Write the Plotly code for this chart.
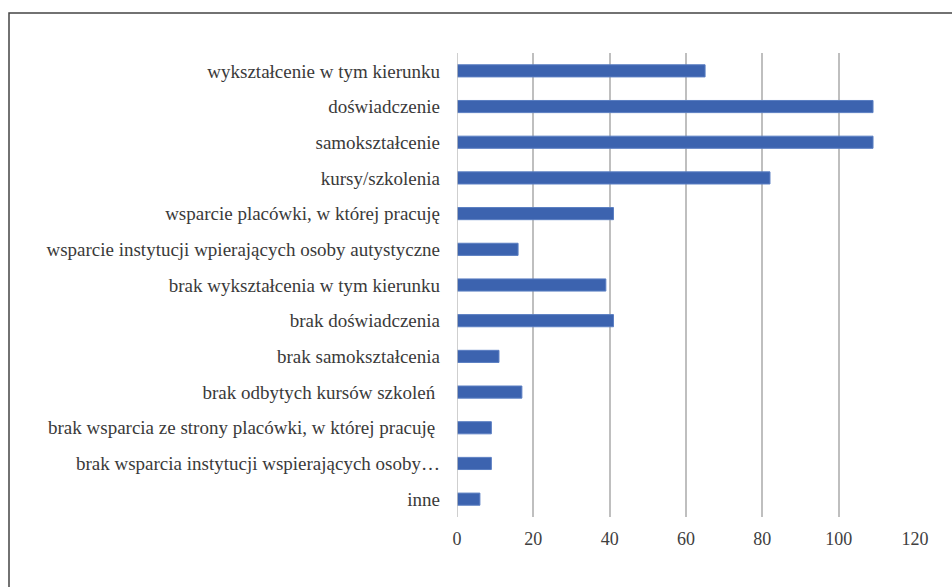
import plotly.graph_objects as go

categories = [
    "wykształcenie w tym kierunku",
    "doświadczenie",
    "samokształcenie",
    "kursy/szkolenia",
    "wsparcie placówki, w której pracuję",
    "wsparcie instytucji wpierających osoby autystyczne",
    "brak wykształcenia w tym kierunku",
    "brak doświadczenia",
    "brak samokształcenia",
    "brak odbytych kursów szkoleń ",
    "brak wsparcia ze strony placówki, w której pracuję ",
    "brak wsparcia instytucji wspierających osoby…",
    "inne",
]
values = [65, 109, 109, 82, 41, 16, 39, 41, 11, 17, 9, 9, 6]
x_ticks = [0, 20, 40, 60, 80, 100, 120]

W, H = 952, 587
L, R, T, B = 457, 37, 53, 70
pw, ph = W - L - R, H - T - B
FONT = "Liberation Serif"

fig = go.Figure(go.Bar(
    y=categories, x=values, orientation="h",
    marker=dict(color="#3C63AF", line=dict(color="#5A7EC2", width=1)),
    width=0.34,
))

fig.update_layout(
    width=W, height=H,
    margin=dict(l=L, r=R, t=T, b=B, pad=0),
    paper_bgcolor="white", plot_bgcolor="white",
    font=dict(family=FONT, size=19, color="#3a3a3a"),
    showlegend=False,
    xaxis=dict(range=[0, 120], tickvals=x_ticks, showgrid=True, gridcolor="#BFBFBF",
               gridwidth=1.5, zeroline=False, showline=False, ticks="",
               ticklabelstandoff=9,
               tickfont=dict(family=FONT, size=18, color="#404040")),
    yaxis=dict(autorange="reversed", showgrid=False, zeroline=False, showline=False,
               ticks="", ticklabelstandoff=16, tickfont=dict(family=FONT, size=19, color="#3a3a3a")),
    shapes=[
        dict(type="line", xref="x", yref="paper", x0=0, x1=0, y0=0, y1=1,
             line=dict(color="#BFBFBF", width=1.5), layer="above"),
        dict(type="rect", xref="paper", yref="paper",
             x0=(9 - L) / pw, x1=(W + 20 - L) / pw,
             y0=(H - B - (H + 20)) / ph, y1=(H - B - 13) / ph,
             line=dict(color="#444444", width=1.5)),
    ],
)

fig.write_html("out.html", config={"displayModeBar": False},
               post_script="document.body.style.margin='0';document.body.style.overflow='hidden';")
